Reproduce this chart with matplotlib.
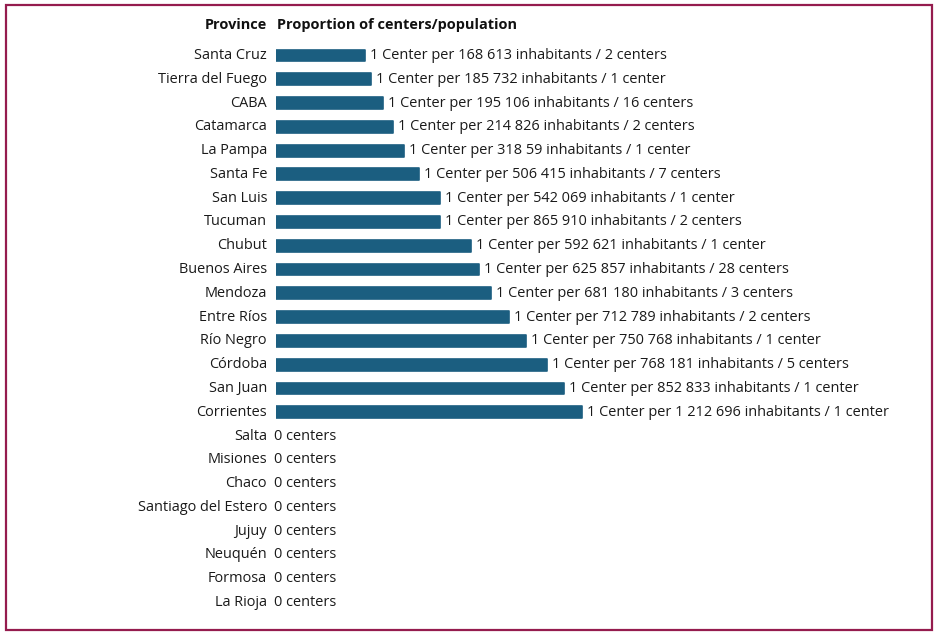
import matplotlib
matplotlib.use('Agg')
from matplotlib import pyplot as plt

## Data
provinces = ['Santa Cruz', 'Tierra del Fuego', 'CABA', 'Catamarca', 'La Pampa',
             'Santa Fe', 'San Luis', 'Tucuman', 'Chubut', 'Buenos Aires',
             'Mendoza', 'Entre Ríos', 'Río Negro', 'Córdoba', 'San Juan',
             'Corrientes', 'Salta', 'Misiones', 'Chaco', 'Santiago del Estero',
             'Jujuy', 'Neuquén', 'Formosa', 'La Rioja']
# bar lengths as drawn in the original (arbitrary units)
bar_len = [89, 95, 107, 117, 128, 143, 164, 164, 195, 203,
           215, 233, 250, 271, 288, 306, 0, 0, 0, 0, 0, 0, 0, 0]
inhabitants = ['168 613', '185 732', '195 106', '214 826', '318 59',
               '506 415', '542 069', '865 910', '592 621', '625 857',
               '681 180', '712 789', '750 768', '768 181', '852 833',
               '1 212 696', None, None, None, None, None, None, None, None]
centers = [2, 1, 16, 2, 1, 7, 1, 2, 1, 28, 3, 2, 1, 5, 1, 1, 0, 0, 0, 0, 0, 0, 0, 0]

BAR = '#1b5e80'
FRAME = '#951c4e'
FS = 10.45

plt.rcParams['font.family'] = ['Open Sans', 'DejaVu Sans']

fig = plt.figure(figsize=(9.38, 6.35), dpi=100)
W, H = 938.0, 635.0
row0, step = 55.5, (602.5 - 55.5) / 23
top = row0 - step
bottom = 602.5 + step
ax = fig.add_axes([276 / W, 1 - bottom / H, (932 - 276) / W, (bottom - top) / H])
ax.set_xlim(0, 932 - 276)
ax.set_ylim(len(provinces), -1)
ax.axis('off')

for i, (name, L, inh, c) in enumerate(zip(provinces, bar_len, inhabitants, centers)):
	if L > 0:
		ax.barh(i, L, height=0.5, color=BAR, edgecolor=BAR, linewidth=1.2,
				joinstyle='round')
	ax.text(-9, i, name, ha='right', va='center', fontsize=FS, color='#1a1a1a')
	if inh is None:
		label = '0 centers'
		x = -2
	else:
		label = '1 Center per %s inhabitants / %d center%s' % (inh, c, 's' if c > 1 else '')
		x = L + 5
	ax.text(x, i, label, ha='left', va='center', fontsize=FS, color='#1a1a1a')

fig.text(267 / W, 1 - 25 / H, 'Province', ha='right', va='center',
		 fontsize=FS, fontweight='bold', color='#111111')
fig.text(277 / W, 1 - 25 / H, 'Proportion of centers/population', ha='left',
		 va='center', fontsize=FS, fontweight='bold', color='#111111')

frame = plt.Rectangle((6 / W, 1 - 630 / H), (932 - 6) / W, (630 - 5) / H,
					  transform=fig.transFigure, fill=False, edgecolor=FRAME,
					  linewidth=1.6)
fig.patches.append(frame)

fig.savefig('out.png', dpi=100)
plt.close()
